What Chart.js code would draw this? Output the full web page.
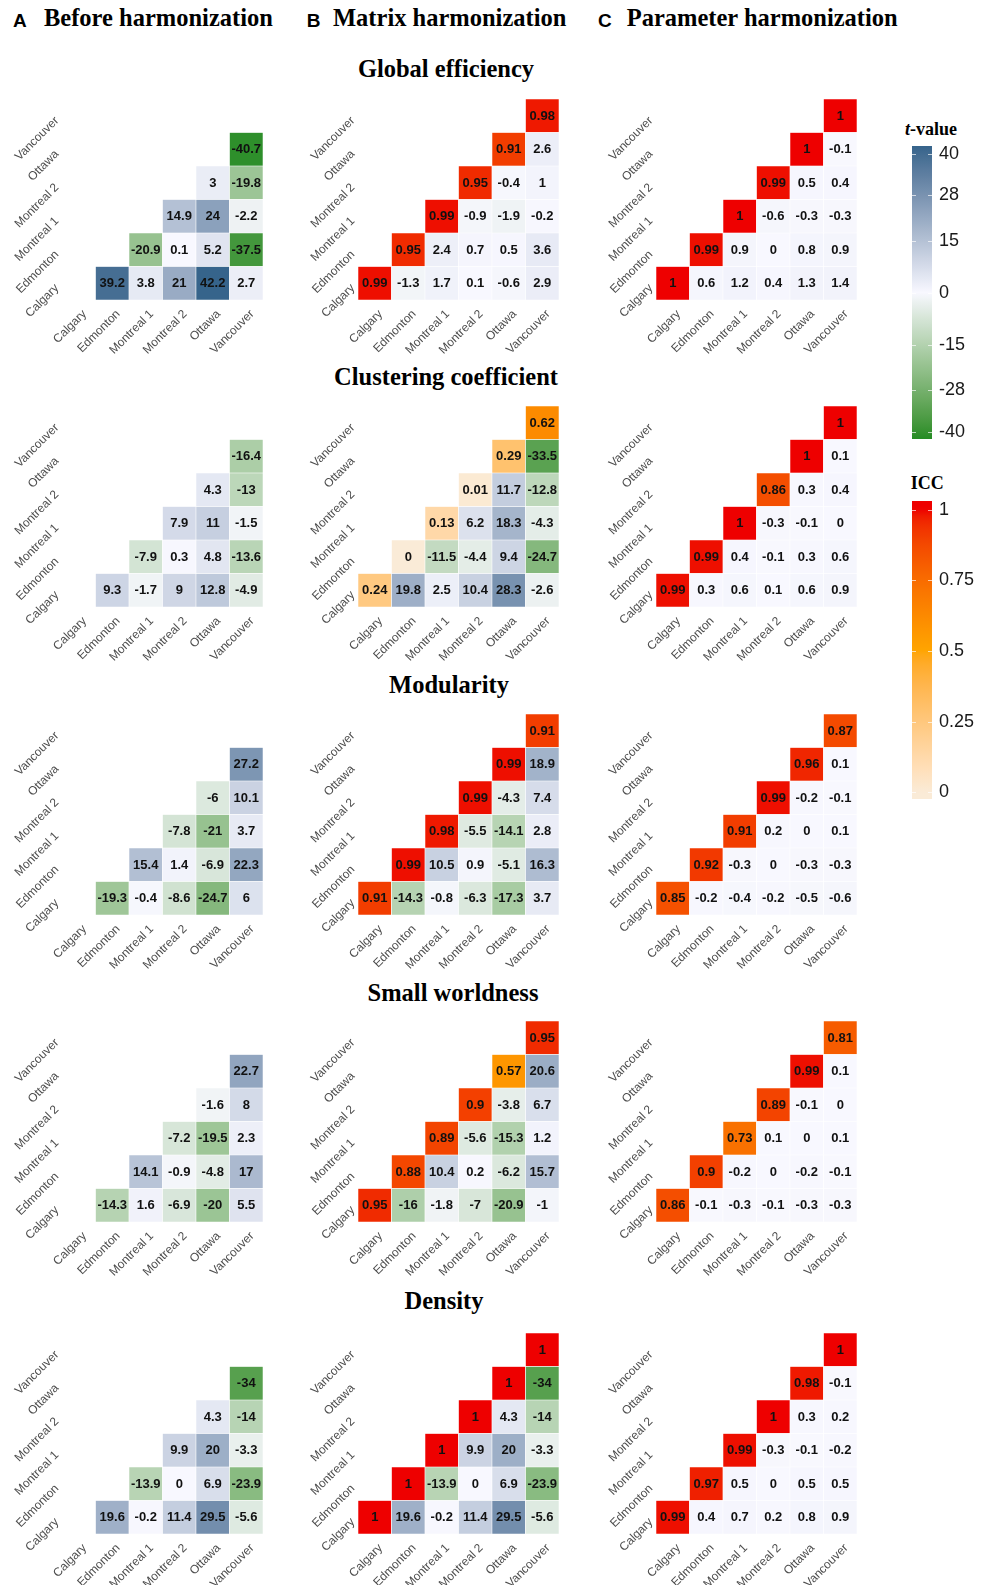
<!DOCTYPE html>
<html><head><meta charset="utf-8">
<script src="https://cdn.jsdelivr.net/npm/chart.js@4.4.1/dist/chart.umd.min.js"></script>
<style>
html,body{margin:0;padding:0;background:#fff;}
body{width:983px;height:1585px;position:relative;overflow:hidden;}
canvas{position:absolute;}
.t{position:absolute;white-space:nowrap;color:#000;}
.let{font:bold 19px "Liberation Sans",Arial,sans-serif;line-height:19px;}
.ser{font:bold 24.5px "Liberation Serif","Times New Roman",serif;line-height:24.5px;}
.mt{font:bold 24.5px "Liberation Serif","Times New Roman",serif;line-height:24.5px;width:400px;text-align:center;}
.lg{font:bold 18px "Liberation Serif","Times New Roman",serif;line-height:18px;}
</style></head><body>
<script>
// ---------------- DATA ----------------
const sites = ["Calgary", "Edmonton", "Montreal 1", "Montreal 2", "Ottawa", "Vancouver"];
const metrics = ["Global efficiency", "Clustering coefficient", "Modularity", "Small worldness", "Density"];
const columnLetters = ["A", "B", "C"];
const columnTitles = ["Before harmonization", "Matrix harmonization", "Parameter harmonization"];

// t-values, upper triangle: row i lists site i vs sites i+1..5
const geBefore = [[39.2, 3.8, 21, 42.2, 2.7], [-20.9, 0.1, 5.2, -37.5], [14.9, 24, -2.2], [3, -19.8], [-40.7]];
const geMatrixT = [[-1.3, 1.7, 0.1, -0.6, 2.9], [2.4, 0.7, 0.5, 3.6], [-0.9, -1.9, -0.2], [-0.4, 1], [2.6]];
const geMatrixICC = [0.99, 0.95, 0.99, 0.95, 0.91, 0.98];
const geParamT = [[0.6, 1.2, 0.4, 1.3, 1.4], [0.9, 0, 0.8, 0.9], [-0.6, -0.3, -0.3], [0.5, 0.4], [-0.1]];
const geParamICC = [1, 0.99, 1, 0.99, 1, 1];

const ccBefore = [[9.3, -1.7, 9, 12.8, -4.9], [-7.9, 0.3, 4.8, -13.6], [7.9, 11, -1.5], [4.3, -13], [-16.4]];
const ccMatrixT = [[19.8, 2.5, 10.4, 28.3, -2.6], [-11.5, -4.4, 9.4, -24.7], [6.2, 18.3, -4.3], [11.7, -12.8], [-33.5]];
const ccMatrixICC = [0.24, 0, 0.13, 0.01, 0.29, 0.62];
const ccParamT = [[0.3, 0.6, 0.1, 0.6, 0.9], [0.4, -0.1, 0.3, 0.6], [-0.3, -0.1, 0], [0.3, 0.4], [0.1]];
const ccParamICC = [0.99, 0.99, 1, 0.86, 1, 1];

const modBefore = [[-19.3, -0.4, -8.6, -24.7, 6], [15.4, 1.4, -6.9, 22.3], [-7.8, -21, 3.7], [-6, 10.1], [27.2]];
const modMatrixT = [[-14.3, -0.8, -6.3, -17.3, 3.7], [10.5, 0.9, -5.1, 16.3], [-5.5, -14.1, 2.8], [-4.3, 7.4], [18.9]];
const modMatrixICC = [0.91, 0.99, 0.98, 0.99, 0.99, 0.91];
const modParamT = [[-0.2, -0.4, -0.2, -0.5, -0.6], [-0.3, 0, -0.3, -0.3], [0.2, 0, 0.1], [-0.2, -0.1], [0.1]];
const modParamICC = [0.85, 0.92, 0.91, 0.99, 0.96, 0.87];

const swBefore = [[-14.3, 1.6, -6.9, -20, 5.5], [14.1, -0.9, -4.8, 17], [-7.2, -19.5, 2.3], [-1.6, 8], [22.7]];
const swMatrixT = [[-16, -1.8, -7, -20.9, -1], [10.4, 0.2, -6.2, 15.7], [-5.6, -15.3, 1.2], [-3.8, 6.7], [20.6]];
const swMatrixICC = [0.95, 0.88, 0.89, 0.9, 0.57, 0.95];
const swParamT = [[-0.1, -0.3, -0.1, -0.3, -0.3], [-0.2, 0, -0.2, -0.1], [0.1, 0, 0.1], [-0.1, 0], [0.1]];
const swParamICC = [0.86, 0.9, 0.73, 0.89, 0.99, 0.81];

const denBefore = [[19.6, -0.2, 11.4, 29.5, -5.6], [-13.9, 0, 6.9, -23.9], [9.9, 20, -3.3], [4.3, -14], [-34]];
const denMatrixT = [[19.6, -0.2, 11.4, 29.5, -5.6], [-13.9, 0, 6.9, -23.9], [9.9, 20, -3.3], [4.3, -14], [-34]];
const denMatrixICC = [1, 1, 1, 1, 1, 1];
const denParamT = [[0.4, 0.7, 0.2, 0.8, 0.9], [0.5, 0, 0.5, 0.5], [-0.3, -0.1, -0.2], [0.3, 0.2], [-0.1]];
const denParamICC = [0.99, 0.97, 0.99, 1, 0.98, 1];

const tTicks = [40, 28, 15, 0, -15, -28, -40];
const tLimits = [-42.0, 42.2];
const iccTicks = [1, 0.75, 0.5, 0.25, 0];
const iccLimits = [-0.0235, 1.0305];

// ---------------- COLOURS (Lab interpolation) ----------------
function hex2rgb(h){ return [1,3,5].map(i => parseInt(h.substr(i,2),16)); }
function s2l(c){ c/=255; return c<=0.04045 ? c/12.92 : Math.pow((c+0.055)/1.055, 2.4); }
function l2s(c){ c = c<=0.0031308 ? 12.92*c : 1.055*Math.pow(c,1/2.4)-0.055; return Math.round(Math.max(0,Math.min(1,c))*255); }
function rgb2lab(rgb){
  const [r,g,b] = rgb.map(s2l);
  const x=(0.4124564*r+0.3575761*g+0.1804375*b)/0.95047, y=(0.2126729*r+0.7151522*g+0.0721750*b), z=(0.0193339*r+0.1191920*g+0.9503041*b)/1.08883;
  const f = t => t>0.008856 ? Math.cbrt(t) : 7.787*t+16/116;
  const fx=f(x), fy=f(y), fz=f(z);
  return [116*fy-16, 500*(fx-fy), 200*(fy-fz)];
}
function lab2rgb([L,a,b]){
  const fy=(L+16)/116, fx=fy+a/500, fz=fy-b/200;
  const fi = t => t*t*t>0.008856 ? t*t*t : (t-16/116)/7.787;
  const x=fi(fx)*0.95047, y=fi(fy), z=fi(fz)*1.08883;
  return [l2s(3.2404542*x-1.5371385*y-0.4985314*z), l2s(-0.9692660*x+1.8760108*y+0.0415560*z), l2s(0.0556434*x-0.2040259*y+1.0572252*z)];
}
function makeRamp(stops){
  const labs = stops.map(s => [s[0], rgb2lab(hex2rgb(s[1]))]);
  return function(p){
    p = Math.max(0, Math.min(1, p));
    for (let i=0;i<labs.length-1;i++){
      const [p0,c0] = labs[i], [p1,c1] = labs[i+1];
      if (p <= p1 || i === labs.length-2){
        const t = (p-p0)/(p1-p0);
        const c = lab2rgb([0,1,2].map(k => c0[k]+(c1[k]-c0[k])*t));
        return `rgb(${c[0]},${c[1]},${c[2]})`;
      }
    }
  };
}
const tRamp = makeRamp([[0,"#228B22"],[0.5,"#F8F8FF"],[1,"#36648B"]]);
const iccRamp = makeRamp([[0,"#FAEBD7"],[0.5,"#FFA500"],[1,"#EE0000"]]);
const tMax = Math.max(Math.abs(tLimits[0]), Math.abs(tLimits[1]));
const tColor = v => tRamp(0.5 + v/(2*tMax));
const iccColor = v => iccRamp(v);

// ---------------- LAYOUT ----------------
const gridLefts = [61.5, 358, 655.5];
const gridTops = [99, 406, 714, 1021, 1333];
const titleCenters = [446, 446, 449, 453, 444];
const titleBaselines = [78, 385.5, 694, 1001.5, 1310];
const GRID = 201, AY = 60, AX = 60, PT = 2, PR = 2;

Chart.defaults.font.family = "'Liberation Sans', Arial, sans-serif";

function addText(cls, html, left, top){
  const d = document.createElement('div');
  d.className = 't ' + cls; d.innerHTML = html;
  d.style.left = left + 'px'; d.style.top = top + 'px';
  document.body.appendChild(d);
}

// headers
const letterLefts = [13, 306.7, 598], titleLefts = [44, 333, 626.7];
columnLetters.forEach((L,i) => {
  addText('let', L, letterLefts[i], 26.7 - 0.8465*19);
  addText('ser', columnTitles[i], titleLefts[i], 26.7 - 0.8375*24.5);
});
metrics.forEach((m,i) => addText('mt', m, titleCenters[i]-200, titleBaselines[i] - 0.8375*24.5));
addText('lg', '<i>t</i>-value', 905, 135 - 0.8375*18);
addText('lg', 'ICC', 910.7, 489.3 - 0.8375*18);

const cellText = {
  id: 'cellText',
  afterDatasetsDraw(chart){
    const ctx = chart.ctx;
    ctx.save();
    ctx.font = "bold 13px 'Liberation Sans', Arial, sans-serif";
    ctx.fillStyle = '#111';
    ctx.textAlign = 'center'; ctx.textBaseline = 'middle';
    chart.data.datasets.forEach((ds, di) => {
      const meta = chart.getDatasetMeta(di);
      meta.data.forEach((el, i) => {
        const v = ds.cellValues[i];
        if (v === null || v === undefined) return;
        const p = el.getProps(['x','y','base'], true);
        ctx.fillText(String(v), p.x, (p.y + p.base)/2 + 0.5);
      });
    });
    ctx.restore();
  }
};

function makeHeat(row, col, tVals, iccDiag){
  const cv = document.createElement('canvas');
  const W = AY + GRID + PR, H = PT + GRID + AX;
  cv.width = W; cv.height = H;
  cv.style.left = (gridLefts[col] - AY) + 'px';
  cv.style.top = (gridTops[row] - PT) + 'px';
  cv.style.width = W + 'px'; cv.style.height = H + 'px';
  document.body.appendChild(cv);
  const datasets = sites.map((s, r) => {
    const data = [], colors = [], vals = [];
    sites.forEach((_, c) => {
      let v = null, color = 'rgba(0,0,0,0)';
      if (c === r && iccDiag) { v = iccDiag[r]; color = iccColor(v); }
      else if (c > r) { v = tVals[r][c - r - 1]; color = tColor(v); }
      data.push(v === null ? null : [r, r + 1]);
      colors.push(color); vals.push(v);
    });
    return { label: s, data, backgroundColor: colors, cellValues: vals, borderColor: '#ffffff',
             borderWidth: 0.6, borderSkipped: false, barPercentage: 1, categoryPercentage: 1, grouped: false };
  });
  const zeroPad = s => { s.paddingLeft = 0; s.paddingRight = 0; s.paddingTop = 0; s.paddingBottom = 0; };
  new Chart(cv, {
    type: 'bar',
    data: { labels: sites, datasets },
    options: {
      responsive: false, animation: false, devicePixelRatio: 1,
      layout: { padding: { left: 0, top: PT, right: PR, bottom: 0 } },
      plugins: { legend: { display: false }, tooltip: { enabled: false } },
      scales: {
        x: { type: 'category', offset: true,
             grid: { display: false, drawTicks: false }, border: { display: false },
             ticks: { minRotation: 45, maxRotation: 45, autoSkip: false, padding: 7, labelOffset: 6,
                      color: '#4d4d4d', font: { size: 12 } },
             afterFit: s => { s.height = AX; zeroPad(s); } },
        y: { type: 'linear', min: 0, max: 6,
             grid: { display: false, drawTicks: false }, border: { display: false },
             afterBuildTicks: s => { s.ticks = sites.map((_, i) => ({ value: i + 0.5 })); },
             ticks: { minRotation: 45, maxRotation: 45, autoSkip: false, padding: 5, labelOffset: 3,
                      color: '#4d4d4d', font: { size: 12 }, callback: (v, i) => sites[i] },
             afterFit: s => { s.width = AY; zeroPad(s); } }
      }
    },
    plugins: [cellText]
  });
}

const panels = [
  [[geBefore, null], [geMatrixT, geMatrixICC], [geParamT, geParamICC]],
  [[ccBefore, null], [ccMatrixT, ccMatrixICC], [ccParamT, ccParamICC]],
  [[modBefore, null], [modMatrixT, modMatrixICC], [modParamT, modParamICC]],
  [[swBefore, null], [swMatrixT, swMatrixICC], [swParamT, swParamICC]],
  [[denBefore, null], [denMatrixT, denMatrixICC], [denParamT, denParamICC]]
];
panels.forEach((rowP, r) => rowP.forEach((p, c) => makeHeat(r, c, p[0], p[1])));

// ---------------- COLOUR BARS ----------------
function makeBar(left, top, height, limits, ticks, colorFn){
  const BW = 20, AXW = 52, PADV = 12;
  const cv = document.createElement('canvas');
  const W = BW + AXW, H = height + 2*PADV;
  cv.width = W; cv.height = H;
  cv.style.left = left + 'px'; cv.style.top = (top - PADV) + 'px';
  cv.style.width = W + 'px'; cv.style.height = H + 'px';
  document.body.appendChild(cv);
  const tickMarks = {
    id: 'tickMarks',
    afterDatasetsDraw(chart){
      const ys = chart.scales.y, a = chart.chartArea, ctx = chart.ctx;
      ctx.save(); ctx.strokeStyle = 'rgba(255,255,255,0.85)'; ctx.lineWidth = 0.8;
      ticks.forEach(t => {
        const y = Math.round(ys.getPixelForValue(t)) + 0.5;
        ctx.beginPath(); ctx.moveTo(a.left, y); ctx.lineTo(a.left + 4, y);
        ctx.moveTo(a.right - 4, y); ctx.lineTo(a.right, y); ctx.stroke();
      });
      ctx.restore();
    }
  };
  new Chart(cv, {
    type: 'bar',
    data: { labels: [''], datasets: [{ data: [[limits[0], limits[1]]], barPercentage: 1, categoryPercentage: 1,
      borderWidth: 0,
      backgroundColor: (ctx) => {
        const chart = ctx.chart, ys = chart.scales.y;
        if (!chart.chartArea || !ys) return '#ccc';
        const y0 = ys.getPixelForValue(limits[1]), y1 = ys.getPixelForValue(limits[0]);
        const g = chart.ctx.createLinearGradient(0, y0, 0, y1);
        const N = 60;
        for (let i = 0; i <= N; i++) {
          const v = limits[1] - (limits[1] - limits[0]) * i / N;
          g.addColorStop(i / N, colorFn(v));
        }
        return g;
      } }] },
    options: {
      responsive: false, animation: false, devicePixelRatio: 1,
      layout: { padding: { left: 0, right: 0, top: PADV, bottom: PADV } },
      plugins: { legend: { display: false }, tooltip: { enabled: false } },
      scales: {
        x: { display: false, offset: true },
        y: { type: 'linear', position: 'right', min: limits[0], max: limits[1],
             grid: { display: false, drawTicks: false }, border: { display: false },
             afterBuildTicks: s => { s.ticks = ticks.map(v => ({ value: v })); },
             ticks: { autoSkip: false, padding: 7, color: '#1a1a1a', font: { size: 18 },
                      callback: (v, i) => String(ticks[i]) },
             afterFit: s => { s.width = AXW; s.paddingTop = 0; s.paddingBottom = 0; } }
      }
    },
    plugins: [tickMarks]
  });
}
makeBar(912, 146, 293, tLimits, tTicks, tColor);
makeBar(912, 500.7, 298, iccLimits, iccTicks, iccColor);
</script>
</body></html>
